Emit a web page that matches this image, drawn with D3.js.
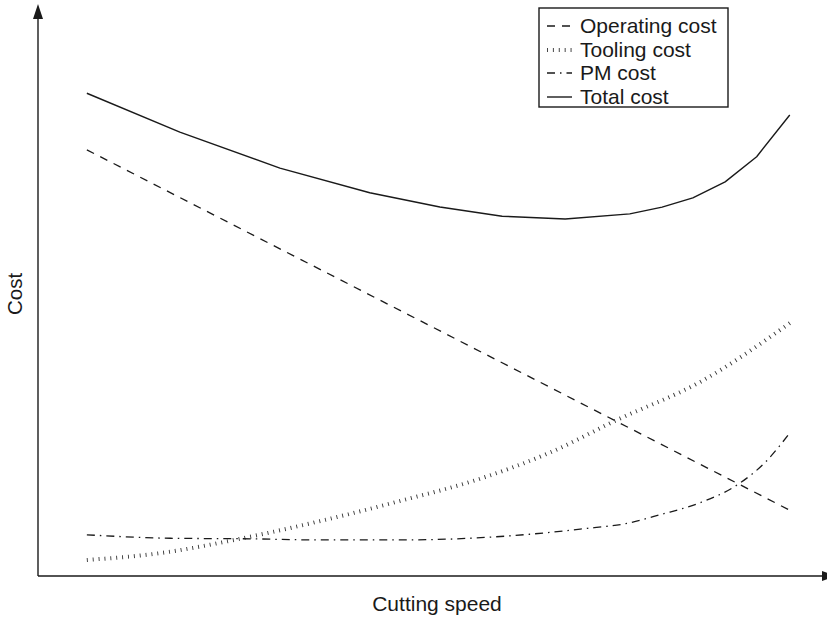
<!DOCTYPE html>
<html>
<head>
<meta charset="utf-8">
<script src="https://cdn.jsdelivr.net/npm/d3@7"></script>
<style>
  html, body { margin: 0; padding: 0; background: #fff; }
  svg { display: block; font-family: "Liberation Sans", Arial, Helvetica, sans-serif; }
</style>
</head>
<body>
<svg id="chart" width="827" height="618"></svg>
<script>
// ---- Data (x: cutting speed, y: cost; both in arbitrary units 0-100) ----
const operatingSpeed = [6.2, 95.4];
const operatingCost  = [74.5, 11.5];

const toolingSpeed = [6.2, 15.5, 25.6, 35.8, 45.9, 56.1, 65.0, 73.5, 84.0, 95.4];
const toolingCost  = [2.8, 4.0, 6.5, 9.6, 13.1, 17.0, 21.6, 27.3, 33.9, 44.2];

const pmSpeed = [6.2, 16.8, 26.9, 35.8, 45.9, 54.8, 62.4, 68.8, 75.1, 78.9, 84.0, 88.7, 92.3, 95.4];
const pmCost  = [7.2, 6.6, 6.5, 6.3, 6.3, 6.6, 7.3, 8.2, 9.3, 10.7, 12.8, 15.9, 19.9, 25.0];

const totalSpeed = [6.2, 18.0, 30.7, 42.1, 51.0, 58.9, 66.9, 75.1, 79.2, 83.1, 87.2, 91.2, 95.4];
const totalCost  = [84.4, 77.6, 71.3, 67.0, 64.5, 62.9, 62.4, 63.3, 64.5, 66.1, 68.9, 73.3, 80.6];

const seriesNames = ["Operating cost", "Tooling cost", "PM cost", "Total cost"];
const xLabel = "Cutting speed";
const yLabel = "Cost";

// ---- Layout ----
const svg = d3.select("#chart");
const x0 = 38, x1 = 826, yBottom = 576, yTop = 4;
const x = d3.scaleLinear().domain([0, 100]).range([x0, x1]);
const y = d3.scaleLinear().domain([0, 100]).range([yBottom, yTop]);

const ink = "#1a1a1a";

const styles = [
  { dash: "8,7",            width: 1.3, color: ink },
  { dash: "0.9,5",          width: 4,   color: "#333" },
  { dash: "8,5,1.5,5",      width: 1.3, color: ink },
  { dash: null,             width: 1.4, color: ink }
];

const series = [
  d3.zip(operatingSpeed, operatingCost),
  d3.zip(toolingSpeed, toolingCost),
  d3.zip(pmSpeed, pmCost),
  d3.zip(totalSpeed, totalCost)
];
const curves = [d3.curveLinear, d3.curveMonotoneX, d3.curveMonotoneX, d3.curveLinear];

series.forEach((pts, i) => {
  const line = d3.line().x(d => x(d[0])).y(d => y(d[1])).curve(curves[i]);
  const p = svg.append("path")
    .attr("d", line(pts))
    .attr("fill", "none")
    .attr("stroke", styles[i].color)
    .attr("stroke-width", styles[i].width)
    .attr("stroke-linejoin", "round");
  if (styles[i].dash) p.attr("stroke-dasharray", styles[i].dash);
});

// ---- Axes with arrows ----
svg.append("line")
  .attr("x1", x0).attr("y1", yBottom).attr("x2", x0).attr("y2", 16)
  .attr("stroke", ink).attr("stroke-width", 1.4);
svg.append("path")
  .attr("d", `M${x0},${yTop} L${x0 - 5},${yTop + 15} L${x0 + 5},${yTop + 15} Z`)
  .attr("fill", ink);

svg.append("line")
  .attr("x1", x0).attr("y1", yBottom).attr("x2", 822).attr("y2", yBottom)
  .attr("stroke", ink).attr("stroke-width", 1.4);
svg.append("path")
  .attr("d", `M${837},${yBottom} L${822},${yBottom - 5} L${822},${yBottom + 5} Z`)
  .attr("fill", ink);

// ---- Axis labels ----
svg.append("text")
  .attr("x", 437).attr("y", 611)
  .attr("text-anchor", "middle")
  .attr("font-size", 21)
  .attr("fill", ink)
  .text(xLabel);

svg.append("text")
  .attr("transform", "translate(22,294) rotate(-90)")
  .attr("text-anchor", "middle")
  .attr("font-size", 20.5)
  .attr("fill", ink)
  .text(yLabel);

// ---- Legend ----
const lg = svg.append("g");
lg.append("rect")
  .attr("x", 539).attr("y", 8).attr("width", 189).attr("height", 99)
  .attr("fill", "#fff").attr("stroke", ink).attr("stroke-width", 1.4);

const rowY = [26, 50, 73, 97];
seriesNames.forEach((name, i) => {
  const l = lg.append("line")
    .attr("x1", 547).attr("x2", 572)
    .attr("y1", rowY[i]).attr("y2", rowY[i])
    .attr("stroke", styles[i].color)
    .attr("stroke-width", styles[i].width);
  if (styles[i].dash) l.attr("stroke-dasharray", styles[i].dash);
  lg.append("text")
    .attr("x", 580).attr("y", rowY[i] + 7)
    .attr("font-size", 21)
    .attr("fill", ink)
    .text(name);
});
</script>
</body>
</html>
